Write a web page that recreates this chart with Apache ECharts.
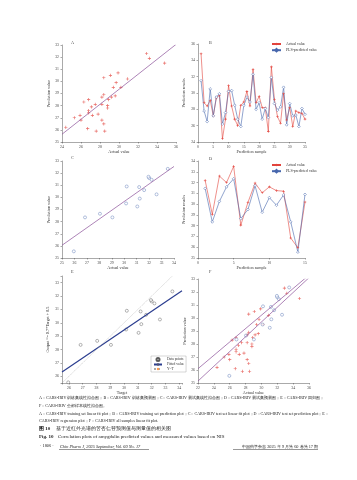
<!DOCTYPE html>
<html><head><meta charset="utf-8">
<script src="https://cdn.jsdelivr.net/npm/echarts@6/dist/echarts.min.js"></script>
<style>html,body{margin:0;padding:0;background:#fff}#c{width:357px;height:480px}</style>
</head><body><div id="c"></div>
<script>
// Training set (sample index, actual, PLS-predicted)
const trainIndex = [1,2,3,4,5,6,7,8,9,10,11,12,13,14,15,16,17,18,19,20,21,22,23,24,25,26,27,28,29,30,31,32,33,34,35];
const trainActual = [34.8,28.8,28.4,29.1,27.2,29.4,29.7,24.4,26.8,30.9,28.4,26.8,26.0,28.5,28.9,30.2,28.4,32.9,28.8,29.6,28.2,28.2,25.3,33.2,29.2,27.1,26.3,29.9,26.7,28.2,25.9,27.8,27.6,27.5,26.8];
const trainPred   = [31.5,27.8,26.5,30.5,27.2,29.5,29.9,26.2,27.6,30.2,30.3,28.5,26.8,25.9,28.5,29.5,28.9,32.3,28.0,28.8,26.8,28.1,27.0,31.9,28.7,27.9,28.3,30.7,26.1,28.7,27.2,27.3,25.9,28.1,27.4];
// Test set
const testIndex  = [1,2,3,4,5,6,7,8,9,10,11,12,13,14,15];
const testActual = [32.2,29.05,32.6,32.0,33.5,28.05,30.15,31.95,31.05,31.6,31.25,31.2,26.85,25.95,30.2];
const testPred   = [31.45,28.35,30.25,31.6,32.35,28.65,29.5,31.7,29.25,30.6,29.9,30.85,28.35,25.55,30.9];
// Fit lines (end points)
const fitTrain = [[24,25.64],[36,33.05]];
const fitTest  = [[25,26.05],[34,32.55]];
const fitReg   = [[25.5,26.32],[34.2,32.4]];
const lineYT   = [[25.5,25.5],[33.5,33.5]];
const fitAllTrain = [[22,26.1],[36,33.3]];
const fitAllTest  = [[22,25.15],[36,33.1]];
// Axis ticks
const axA = {x:[24,36,2], y:[25,33,1]};
const axB = {x:[0,35,5], y:[24,36,2]};
const axC = {x:[25,34,1], y:[25,33,1]};
const axD = {x:[0,15,5], y:[25,34,1]};
const axE = {x:[25.5,34.2], y:[25.5,33.5]};
const axF = {x:[22,36,2], y:[25,33,1]};

const FONT = 'Liberation Serif';
const RED = '#e2443d', BLUE = '#4767ad', PURPLE = '#8a4f98', NAVY = '#2b3d8f';
const STAR = 'path://M-1,-0.2L1,-0.2L1,0.2L-1,0.2Z M-0.2,-1L0.2,-1L0.2,1L-0.2,1Z';

function pairs(a,b){return a.map((v,i)=>[v,b[i]]);}
function axis(idx, r, name, gap, extra){
  const o = {
    type:'value', gridIndex:idx, min:r[0], max:r[1],
    name:name, nameLocation:'middle', nameGap:gap,
    nameTextStyle:{fontSize:4.2, color:'#333', fontFamily:FONT},
    axisLine:{show:true, onZero:false, lineStyle:{color:'#555', width:0.5}},
    axisTick:{show:true, length:1.5, lineStyle:{color:'#555', width:0.5}},
    axisLabel:{fontSize:3.8, color:'#444', margin:3, fontFamily:FONT},
    splitLine:{show:false}
  };
  if (r.length>2) o.interval = r[2];
  return Object.assign(o, extra||{});
}
const intOnly = {fontSize:3.8, color:'#444', margin:3, fontFamily:FONT,
  formatter: v => Number.isInteger(v) ? String(v) : ''};

const grids = [
  {left:62, top:45, width:114, height:97},
  {left:198, top:44, width:107, height:98},
  {left:62, top:161, width:112, height:97},
  {left:198, top:161, width:107, height:97},
  {left:62, top:276, width:120, height:107},
  {left:198, top:279, width:111, height:104}
];

const xAxes = [
  axis(0, axA.x, 'Actual value', 7),
  axis(1, axB.x, 'Prediction sample', 7),
  axis(2, axC.x, 'Actual value', 7),
  axis(3, axD.x, 'Prediction sample', 7),
  axis(4, axE.x, 'Target', 8, {minInterval:1, maxInterval:1, axisLabel:intOnly}),
  axis(5, axF.x, 'Actual value', 5)
];
const yAxes = [
  axis(0, axA.y, 'Prediction value', 11),
  axis(1, axB.y, 'Prediction results', 12),
  axis(2, axC.y, 'Prediction value', 11),
  axis(3, axD.y, 'Prediction results', 12),
  axis(4, axE.y, 'Output ~= 0.7*Target + 8.5', 12, {minInterval:1, maxInterval:1, axisLabel:intOnly}),
  axis(5, axF.y, 'Prediction value', 11)
];

const openBlue = {color:'#fff', borderColor:BLUE, borderWidth:0.5};
const openDark = {color:'#fff', borderColor:'#333', borderWidth:0.45};

const series = [
  // A
  {type:'scatter', xAxisIndex:0, yAxisIndex:0, data:pairs(trainActual,trainPred), symbol:STAR, symbolSize:3.2, itemStyle:{color:RED}},
  {type:'line', xAxisIndex:0, yAxisIndex:0, data:fitTrain, symbol:'none', lineStyle:{color:PURPLE, width:0.7}},
  // B
  {name:'Actual value', type:'line', xAxisIndex:1, yAxisIndex:1, data:pairs(trainIndex,trainActual), symbol:STAR, symbolSize:2.6, itemStyle:{color:RED}, lineStyle:{color:RED, width:0.6}},
  {name:'PLS-predicted value', type:'line', xAxisIndex:1, yAxisIndex:1, data:pairs(trainIndex,trainPred), symbol:'diamond', symbolSize:2.8, itemStyle:openBlue, lineStyle:{color:BLUE, width:0.6}},
  // C
  {type:'scatter', xAxisIndex:2, yAxisIndex:2, data:pairs(testActual,testPred), symbol:'circle', symbolSize:3, itemStyle:openBlue},
  {type:'line', xAxisIndex:2, yAxisIndex:2, data:fitTest, symbol:'none', lineStyle:{color:PURPLE, width:0.7}},
  // D
  {name:'Actual value', type:'line', xAxisIndex:3, yAxisIndex:3, data:pairs(testIndex,testActual), symbol:STAR, symbolSize:2.6, itemStyle:{color:RED}, lineStyle:{color:RED, width:0.6}},
  {name:'PLS-predicted value', type:'line', xAxisIndex:3, yAxisIndex:3, data:pairs(testIndex,testPred), symbol:'diamond', symbolSize:2.8, itemStyle:openBlue, lineStyle:{color:BLUE, width:0.6}},
  // E
  {name:'Data points', type:'scatter', xAxisIndex:4, yAxisIndex:4, data:pairs(testActual,testPred), symbol:'circle', symbolSize:3, itemStyle:openDark},
  {name:'Fitted value', type:'line', xAxisIndex:4, yAxisIndex:4, data:fitReg, symbol:'none', lineStyle:{color:NAVY, width:1.2}},
  {name:'Y=T', type:'line', xAxisIndex:4, yAxisIndex:4, data:lineYT, symbol:'none', lineStyle:{color:'#aaa', width:0.6, type:'dotted'}},
  // F
  {type:'scatter', xAxisIndex:5, yAxisIndex:5, data:pairs(trainActual,trainPred), symbol:STAR, symbolSize:3.2, itemStyle:{color:RED}},
  {type:'scatter', xAxisIndex:5, yAxisIndex:5, data:pairs(testActual,testPred), symbol:'circle', symbolSize:3, itemStyle:openBlue},
  {type:'line', xAxisIndex:5, yAxisIndex:5, data:fitAllTrain, symbol:'none', lineStyle:{color:PURPLE, width:0.7}},
  {type:'line', xAxisIndex:5, yAxisIndex:5, data:fitAllTest, symbol:'none', lineStyle:{color:PURPLE, width:0.7}}
];

function txt(t, x, y, size, extra){
  return {type:'text', x:x, y:y, style:Object.assign({text:t, fontSize:size, fontFamily:FONT, fill:'#222'}, extra||{})};
}
const letters = [['A',71,41],['B',209,41],['C',71,156],['D',209,157],['E',71,270],['F',209,270]];
const graphics = letters.map(l => txt(l[0], l[1], l[2], 4.2, {fill:'#444'}));
const capSize = 4.1;
graphics.push(
  txt('A：CARS-IRIV 训练集线性拟合图；B：CARS-IRIV 训练集预测图；C：CARS-IRIV 测试集线性拟合图；D：CARS-IRIV 测试集预测图；E：CARS-IRIV 回归图；', 39, 396, capSize),
  txt('F：CARS-IRIV 全部样本线性拟合图。', 39, 404, capSize),
  txt('A：CARS-IRIV training set linear fit plot；B：CARS-IRIV training set prediction plot；C：CARS-IRIV test set linear fit plot；D：CARS-IRIV test set prediction plot；E：', 39, 412, capSize),
  txt('CARS-IRIV regression plot；F：CARS-IRIV all samples linear fit plot.', 39, 419, capSize),
  txt('图 10', 39, 426.5, 5, {fontWeight:'bold'}),
  txt('基于近红外光谱的苦杏仁苷预测值与测量值的相关图', 56, 426.5, 5),
  txt('Fig. 10', 39, 434.5, 5, {fontWeight:'bold'}),
  txt('Correlation plots of amygdalin predicted values and measured values based on NIS', 58, 434.5, 5),
  txt('· 1806 ·', 40, 443.5, 4.3),
  txt('Chin Pharm J, 2025 September, Vol. 60 No. 17', 60, 444.5, 4.3, {fontStyle:'italic'}),
  txt('中国药学杂志 2025 年 9 月第 60 卷第 17 期', 318, 444.5, 4.3, {align:'right'}),
  {type:'line', shape:{x1:59, y1:449.5, x2:149, y2:449.5}, style:{stroke:'#333', lineWidth:0.5}},
  {type:'line', shape:{x1:233, y1:449.5, x2:318, y2:449.5}, style:{stroke:'#333', lineWidth:0.5}}
);

const legendCommon = {orient:'vertical', itemWidth:9, itemHeight:3, itemGap:2,
  textStyle:{fontSize:3.8, color:'#333', fontFamily:FONT}, padding:0};

const option = {
  backgroundColor:'#fff',
  animation:false,
  textStyle:{fontFamily:FONT},
  grid: grids,
  xAxis: xAxes,
  yAxis: yAxes,
  legend: [
    Object.assign({left:271, top:42, data:['Actual value','PLS-predicted value']}, legendCommon),
    Object.assign({left:271, top:163, data:['Actual value','PLS-predicted value']}, legendCommon),
    {left:151, top:356, data:['Data points','Fitted value','Y=T'], orient:'vertical', itemWidth:8, itemHeight:3, itemGap:0.5,
      borderColor:'#999', borderWidth:0.4, padding:[1,2,1,2], backgroundColor:'#fff',
      textStyle:{fontSize:3.6, color:'#333', fontFamily:FONT}}
  ],
  series: series,
  graphic: graphics
};
const chart = echarts.init(document.getElementById('c'), null, {renderer:'canvas'});
chart.setOption(option);
</script>
</body></html>
